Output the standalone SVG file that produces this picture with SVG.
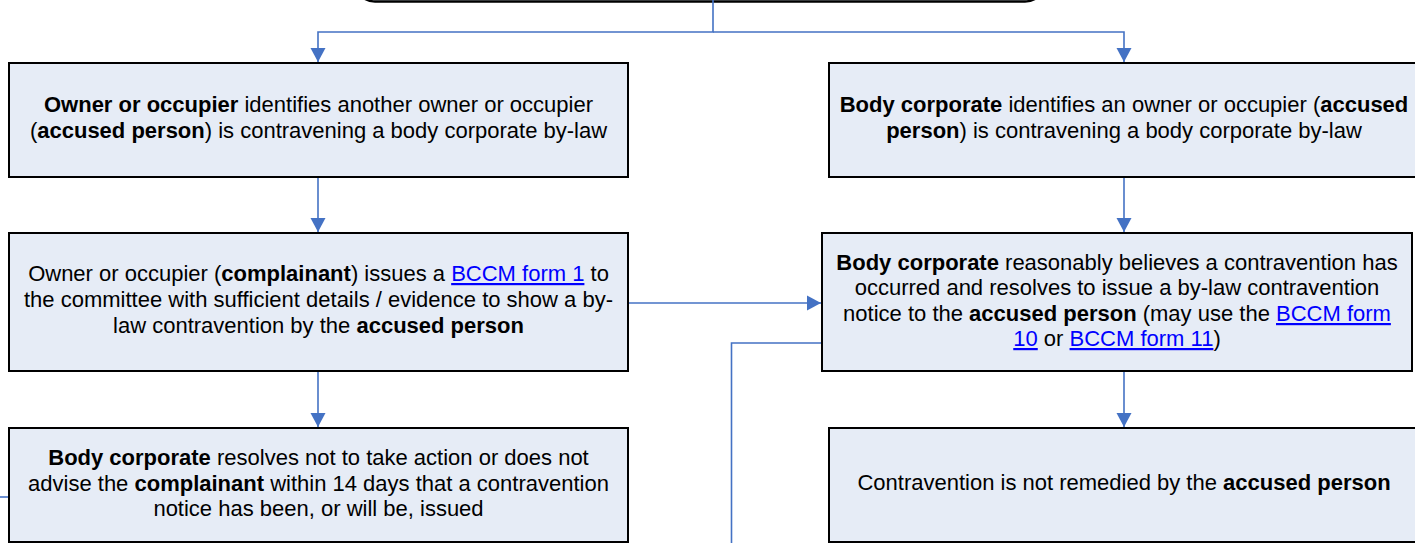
<svg xmlns="http://www.w3.org/2000/svg" width="1415" height="543" viewBox="0 0 1415 543">
<defs>
<marker id="arr" markerUnits="userSpaceOnUse" markerWidth="16" markerHeight="16" viewBox="0 0 16 16" refX="14" refY="8" orient="auto">
<path d="M0,0.5 L14,8 L0,15.5 Z" fill="#4472c4"/>
</marker>
<style>
.box{fill:#e6ecf6;stroke:#000;stroke-width:2}
.top{fill:#e6ecf6;stroke:#000;stroke-width:2.5}
.c{fill:none;stroke:#4472c4;stroke-width:1.6}
text{font-family:"Liberation Sans",Arial,sans-serif;font-size:22px;fill:#000;text-anchor:middle}
.b{font-weight:bold}
.l{fill:#0000ff;text-decoration:underline}
</style>
</defs>
<rect width="1415" height="543" fill="#fff"/>
<g id="start"><rect class="top" x="355" y="-40" width="690" height="41.5" rx="20"/></g>
<g id="connectors">
<path class="c" d="M713,0 V32 H318 V62" marker-end="url(#arr)"/>
<path class="c" d="M713,32 H1124 V62" marker-end="url(#arr)"/>
<path class="c" d="M318,177 V232" marker-end="url(#arr)"/>
<path class="c" d="M1124,177 V232" marker-end="url(#arr)"/>
<path class="c" d="M628,303 H821" marker-end="url(#arr)"/>
<path class="c" d="M318,372 V427" marker-end="url(#arr)"/>
<path class="c" d="M1124,372 V427" marker-end="url(#arr)"/>
<path class="c" d="M822,343 H731.5 V543"/>
<path class="c" d="M0,497 H9"/>
</g>
<g id="owner-identifies">
<rect class="box" x="9" y="63" width="619" height="114"/>
<text x="318.5" y="112"><tspan class="b">Owner or occupier</tspan> identifies another owner or occupier</text>
<text x="318.5" y="138">(<tspan class="b">accused person</tspan>) is contravening a body corporate by-law</text>
</g>
<g id="bc-identifies">
<rect class="box" x="829" y="63" width="590" height="114"/>
<text x="1124" y="112"><tspan class="b">Body corporate</tspan> identifies an owner or occupier (<tspan class="b">accused</tspan></text>
<text x="1124" y="138"><tspan class="b">person</tspan>) is contravening a body corporate by-law</text>
</g>
<g id="complainant-form1">
<rect class="box" x="9" y="233" width="619" height="138"/>
<text x="318.5" y="281">Owner or occupier (<tspan class="b">complainant</tspan>) issues a <tspan class="l">BCCM form 1</tspan> to</text>
<text x="318.5" y="307">the committee with sufficient details / evidence to show a by-</text>
<text x="318.5" y="333">law contravention by the <tspan class="b">accused person</tspan></text>
</g>
<g id="bc-believes">
<rect class="box" x="822" y="233" width="590" height="138"/>
<text x="1117" y="270"><tspan class="b">Body corporate</tspan> reasonably believes a contravention has</text>
<text x="1117" y="295">occurred and resolves to issue a by-law contravention</text>
<text x="1117" y="321">notice to the <tspan class="b">accused person</tspan> (may use the <tspan class="l">BCCM form</tspan></text>
<text x="1117" y="346"><tspan class="l">10</tspan> or <tspan class="l">BCCM form 11</tspan>)</text>
</g>
<g id="bc-no-action">
<rect class="box" x="9" y="428" width="619" height="114"/>
<text x="318.5" y="465"><tspan class="b">Body corporate</tspan> resolves not to take action or does not</text>
<text x="318.5" y="491">advise the <tspan class="b">complainant</tspan> within 14 days that a contravention</text>
<text x="318.5" y="516">notice has been, or will be, issued</text>
</g>
<g id="not-remedied">
<rect class="box" x="829" y="428" width="590" height="114"/>
<text x="1124" y="490">Contravention is not remedied by the <tspan class="b">accused person</tspan></text>
</g>
</svg>
